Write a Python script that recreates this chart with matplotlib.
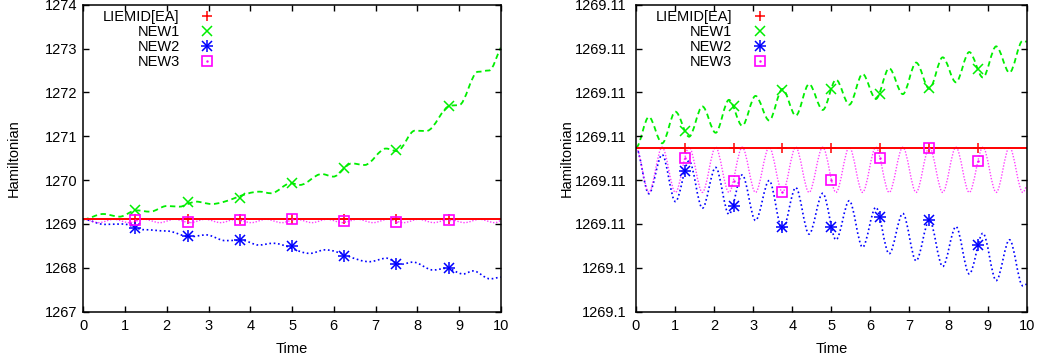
import matplotlib
matplotlib.use("Agg")
import matplotlib.pyplot as plt
from matplotlib.lines import Line2D
from matplotlib.path import Path
from matplotlib.patches import PathPatch

plt.rcParams['font.family'] = ['Liberation Sans', 'DejaVu Sans']
plt.rcParams['font.size'] = 10.5

# marker times (both panels)
t_marks = [1.25, 2.5, 3.75, 5.0, 6.25, 7.5, 8.75]

# ---- left panel: key points (extrema / plateaus)
liemid_left = 1269.107
new1_left_t = [0, 0.47, 0.87, 1.27, 1.6, 2.0, 2.3, 2.7, 3.07, 4.22, 4.5, 4.97, 5.19,
               5.71, 5.99, 6.43, 6.74, 7.25, 7.52, 7.94, 8.22, 8.8, 9.0, 9.45, 9.72, 10]
new1_left_v = [1269.107, 1269.228, 1269.167, 1269.31, 1269.28, 1269.41, 1269.395,
               1269.51, 1269.456, 1269.737, 1269.70, 1269.93, 1269.89, 1270.14,
               1270.08, 1270.38, 1270.345, 1270.72, 1270.66, 1271.127, 1271.12,
               1271.70, 1271.71, 1272.47, 1272.50, 1273.02]
new2_left_t = [0, 0.5, 0.95, 1.45, 2.0, 2.55, 2.95, 3.4, 3.8, 4.2, 4.55, 5.43, 5.79,
               6.86, 7.26, 7.6, 7.9, 8.38, 8.7, 9.1, 9.34, 9.74, 10]
new2_left_v = [1269.107, 1268.99, 1269.0, 1268.87, 1268.84, 1268.71, 1268.75,
               1268.62, 1268.63, 1268.52, 1268.56, 1268.33, 1268.41, 1268.14,
               1268.22, 1268.08, 1268.13, 1267.95, 1267.99, 1267.86, 1267.93,
               1267.75, 1267.79]
new3_left_t = [0, 0.37, 0.73, 1.1, 1.46, 1.83, 2.19, 2.56, 2.92, 3.29, 3.65, 4.02,
               4.38, 4.75, 5.11, 5.48, 5.84, 6.21, 6.57, 6.94, 7.3, 7.67, 8.03, 8.4,
               8.76, 9.13, 9.49, 9.86, 10]
new3_left_v = [1269.107, 1269.03, 1269.107, 1269.03, 1269.107, 1269.03, 1269.107,
               1269.03, 1269.107, 1269.03, 1269.107, 1269.03, 1269.107, 1269.03,
               1269.107, 1269.03, 1269.107, 1269.03, 1269.107, 1269.03, 1269.107,
               1269.03, 1269.107, 1269.03, 1269.107, 1269.03, 1269.107, 1269.03,
               1269.08]
new1_left_mk = [1269.32, 1269.49, 1269.60, 1269.93, 1270.27, 1270.68, 1271.69]
new2_left_mk = [1268.90, 1268.73, 1268.64, 1268.50, 1268.27, 1268.08, 1267.99]
new3_left_mk = [1269.09, 1269.04, 1269.08, 1269.11, 1269.07, 1269.04, 1269.09]

# ---- right panel: extrema
liemid_right = 1269.10674
right_t = [0, 0.33, 0.67, 1.01, 1.36, 1.70, 2.04, 2.38, 2.72, 3.06, 3.41, 3.75, 4.09,
           4.43, 4.78, 5.12, 5.46, 5.80, 6.14, 6.48, 6.83, 7.17, 7.51, 7.85, 8.19,
           8.53, 8.88, 9.22, 9.56, 9.90, 10.0]
new1_right_v = [1269.10674, 1269.10744, 1269.10684, 1269.10756, 1269.10699, 1269.10768,
                1269.10708, 1269.10783, 1269.10724, 1269.10792, 1269.10736, 1269.10808,
                1269.10747, 1269.10819, 1269.10760, 1269.10829, 1269.10772, 1269.10842,
                1269.10785, 1269.10855, 1269.10796, 1269.10868, 1269.10808, 1269.10880,
                1269.10823, 1269.10892, 1269.10834, 1269.10905, 1269.10845, 1269.10918,
                1269.10915]
new2_right_v = [1269.10674, 1269.10569, 1269.10658, 1269.10551, 1269.10644, 1269.10536,
                1269.10629, 1269.10522, 1269.10612, 1269.10508, 1269.10599, 1269.10486,
                1269.10583, 1269.10477, 1269.10570, 1269.10464, 1269.10553, 1269.10447,
                1269.10538, 1269.10432, 1269.10524, 1269.10416, 1269.10509, 1269.10403,
                1269.10494, 1269.10386, 1269.10479, 1269.10371, 1269.10464, 1269.10359,
                1269.10363]
new3_right_v = [1269.10674, 1269.10572, 1269.10675, 1269.10572, 1269.10675, 1269.10572,
                1269.10675, 1269.10572, 1269.10675, 1269.10572, 1269.10675, 1269.10572,
                1269.10675, 1269.10572, 1269.10675, 1269.10572, 1269.10675, 1269.10572,
                1269.10675, 1269.10572, 1269.10675, 1269.10572, 1269.10675, 1269.10572,
                1269.10675, 1269.10572, 1269.10675, 1269.10572, 1269.10675, 1269.10572,
                1269.10587]
new1_right_mk = [1269.10712, 1269.10768, 1269.10806, 1269.10808, 1269.10797, 1269.10810, 1269.10853]
new2_right_mk = [1269.10621, 1269.10541, 1269.10492, 1269.10492, 1269.10515, 1269.10509, 1269.10452]
new3_right_mk = [1269.10650, 1269.10598, 1269.10574, 1269.10600, 1269.10650, 1269.10674, 1269.10644]

x_ticks = list(range(0, 11))
left_yticks = [1267, 1268, 1269, 1270, 1271, 1272, 1273, 1274]
left_ylabels = ['1267', '1268', '1269', '1270', '1271', '1272', '1273', '1274']
right_yticks = [1269.103, 1269.104, 1269.105, 1269.106, 1269.107, 1269.108, 1269.109, 1269.110]
right_ylabels = ['1269.1', '1269.1', '1269.11', '1269.11', '1269.11', '1269.11', '1269.11', '1269.11']

RED, GREEN, BLUE, MAG = '#ff0000', '#00ee00', '#0000ff', '#ff00ff'


def wave(ax, t, v, **kw):
    # smooth curve through the key points, flat tangents at interior points
    verts = [(t[0], v[0])]
    codes = [Path.MOVETO]
    for i in range(len(t) - 1):
        d = (t[i + 1] - t[i]) / 3
        last = i == len(t) - 2
        c2y = v[i + 1] - (v[i + 1] - v[i]) / 3 if last else v[i + 1]
        verts += [(t[i] + d, v[i]), (t[i + 1] - d, c2y), (t[i + 1], v[i + 1])]
        codes += [Path.CURVE4] * 3
    ax.add_patch(PathPatch(Path(verts, codes), fill=False, **kw))


def star_handles(color):
    return (Line2D([], [], ls='none', marker='+', ms=8.5, mew=1.1, color=color),
            Line2D([], [], ls='none', marker='x', ms=6.5, mew=1.1, color=color))


def box_handles(color):
    return (Line2D([], [], ls='none', marker='s', ms=7.5, mew=1.2, mfc='none', color=color),
            Line2D([], [], ls='none', marker='.', ms=1.5, color=color))


def markers(ax, y, kind, color):
    if kind == 'star':
        ax.plot(t_marks, y, ls='none', marker='+', ms=8.5, mew=1.1, color=color)
        ax.plot(t_marks, y, ls='none', marker='x', ms=6.5, mew=1.1, color=color)
    elif kind == 'box':
        ax.plot(t_marks, y, ls='none', marker='s', ms=7.5, mew=1.2, mfc='none', color=color)
        ax.plot(t_marks, y, ls='none', marker='.', ms=1.5, color=color)
    else:
        ax.plot(t_marks, y, ls='none', marker=kind, ms=7, mew=1.1, color=color)


fig = plt.figure(figsize=(10.4, 3.64), dpi=100)
ax1 = fig.add_axes([0.0801, 0.1437, 0.4014, 0.8434])
ax2 = fig.add_axes([0.6115, 0.1437, 0.3757, 0.8434])

panels = [
    (ax1, liemid_left, (new1_left_t, new1_left_v), (new2_left_t, new2_left_v),
     (new3_left_t, new3_left_v), new1_left_mk, new2_left_mk, new3_left_mk),
    (ax2, liemid_right, (right_t, new1_right_v), (right_t, new2_right_v),
     (right_t, new3_right_v), new1_right_mk, new2_right_mk, new3_right_mk),
]

for ax, lie, n1, n2, n3, m1, m2, m3 in panels:
    ax.plot([0, 10], [lie, lie], color=RED, lw=1.4)
    markers(ax, [lie] * len(t_marks), '+', RED)
    wave(ax, *n1, edgecolor=GREEN, lw=1.3, linestyle=(0, (3, 2)))
    markers(ax, m1, 'x', GREEN)
    wave(ax, *n2, edgecolor=BLUE, lw=1.2, linestyle=(0, (1, 1.6)))
    markers(ax, m2, 'star', BLUE)
    wave(ax, *n3, edgecolor=MAG, lw=1.0, linestyle=(0, (1, 1.2)), alpha=0.75)
    markers(ax, m3, 'box', MAG)

    ax.set_xlim(0, 10)
    ax.set_xticks(x_ticks)
    ax.tick_params(direction='in', top=True, right=True, length=4, width=1, labelsize=10.5)
    ax.tick_params(axis='x', pad=5.5)
    for s in ax.spines.values():
        s.set_linewidth(1.1)
    ax.set_xlabel('Time', labelpad=6)
    ax.set_ylabel('Hamiltonian')

    handles = [
        Line2D([], [], ls='none', marker='+', ms=7, mew=1.1, color=RED),
        Line2D([], [], ls='none', marker='x', ms=7, mew=1.1, color=GREEN),
        star_handles(BLUE),
        box_handles(MAG),
    ]
    width_px = ax.get_position().width * 1040
    ax.legend(handles, ['LIEMID[EA]', 'NEW1', 'NEW2', 'NEW3'], loc='upper right',
              bbox_to_anchor=((124 + 7.3) / width_px, 0.982), frameon=False,
              markerfirst=False, alignment='right', handlelength=1.0,
              handletextpad=1.4, labelspacing=0.06, borderpad=0, borderaxespad=0)

ax1.set_ylim(1267, 1274)
ax1.set_yticks(left_yticks, left_ylabels)
ax1.tick_params(axis='y', pad=4.5)
ax1.yaxis.set_label_coords(-0.149, 0.5)

ax2.set_ylim(1269.103, 1269.110)
ax2.set_yticks(right_yticks, right_ylabels)
ax2.tick_params(axis='y', pad=6.5)
ax2.yaxis.set_label_coords(-0.159, 0.5)

fig.savefig('out.png', dpi=100)
